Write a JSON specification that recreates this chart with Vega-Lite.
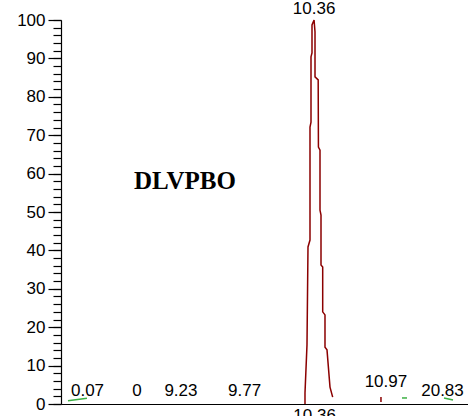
{
  "$schema": "https://vega.github.io/schema/vega-lite/v6.json",
  "width": 407,
  "height": 384,
  "autosize": {"type": "none"},
  "padding": {"left": 61, "top": 20, "right": 0, "bottom": 12},
  "background": "white",
  "config": {"view": {"stroke": null}},
  "datasets": {
    "trace": [
      {"seg": "peak", "series": "A", "i": 1, "t": 10.283, "v": 0},
      {"seg": "peak", "series": "A", "i": 2, "t": 10.283, "v": 2.9},
      {"seg": "peak", "series": "A", "i": 3, "t": 10.300, "v": 15.4},
      {"seg": "peak", "series": "A", "i": 4, "t": 10.3085, "v": 40.9},
      {"seg": "peak", "series": "A", "i": 5, "t": 10.3255, "v": 42.7},
      {"seg": "peak", "series": "A", "i": 6, "t": 10.3255, "v": 72.1},
      {"seg": "peak", "series": "A", "i": 7, "t": 10.334, "v": 73.4},
      {"seg": "peak", "series": "A", "i": 8, "t": 10.334, "v": 90.4},
      {"seg": "peak", "series": "A", "i": 9, "t": 10.3425, "v": 91.4},
      {"seg": "peak", "series": "A", "i": 10, "t": 10.3425, "v": 98.7},
      {"seg": "peak", "series": "A", "i": 11, "t": 10.36, "v": 100},
      {"seg": "peak", "series": "A", "i": 12, "t": 10.368, "v": 96.9},
      {"seg": "peak", "series": "A", "i": 13, "t": 10.368, "v": 85.2},
      {"seg": "peak", "series": "A", "i": 14, "t": 10.395, "v": 84.4},
      {"seg": "peak", "series": "A", "i": 15, "t": 10.397, "v": 66.9},
      {"seg": "peak", "series": "A", "i": 16, "t": 10.4104, "v": 66.1},
      {"seg": "peak", "series": "A", "i": 17, "t": 10.4104, "v": 50.5},
      {"seg": "peak", "series": "A", "i": 18, "t": 10.4189, "v": 49.2},
      {"seg": "peak", "series": "A", "i": 19, "t": 10.4189, "v": 36.2},
      {"seg": "peak", "series": "A", "i": 20, "t": 10.4333, "v": 35.7},
      {"seg": "peak", "series": "A", "i": 21, "t": 10.4333, "v": 24.0},
      {"seg": "peak", "series": "A", "i": 22, "t": 10.4528, "v": 23.2},
      {"seg": "peak", "series": "A", "i": 23, "t": 10.4528, "v": 14.8},
      {"seg": "peak", "series": "A", "i": 24, "t": 10.4698, "v": 14.1},
      {"seg": "peak", "series": "A", "i": 25, "t": 10.4953, "v": 4.4},
      {"seg": "peak", "series": "A", "i": 26, "t": 10.518, "v": 1.8},
      {"seg": "tiny", "series": "A", "i": 1, "t": 10.928, "v": 1.8},
      {"seg": "tiny", "series": "A", "i": 2, "t": 10.928, "v": 0.5},
      {"seg": "g1", "series": "B", "i": 1, "t": 8.2711, "v": 0.86},
      {"seg": "g1", "series": "B", "i": 2, "t": 8.4324, "v": 1.49},
      {"seg": "g2", "series": "B", "i": 1, "t": 11.1065, "v": 1.57},
      {"seg": "g2", "series": "B", "i": 2, "t": 11.149, "v": 1.57},
      {"seg": "g3", "series": "B", "i": 1, "t": 11.463, "v": 1.57},
      {"seg": "g3", "series": "B", "i": 2, "t": 11.5394, "v": 1.04}
    ],
    "labels": [
      {"label": "0.07", "t": 8.4367, "v": 2.08},
      {"label": "0", "t": 8.8569, "v": 2.08},
      {"label": "9.23", "t": 9.23, "v": 2.08},
      {"label": "9.77", "t": 9.77, "v": 2.08},
      {"label": "10.36", "t": 10.36, "v": 101.6},
      {"label": "10.97", "t": 10.97, "v": 4.5},
      {"label": "20.83", "t": 11.4503, "v": 2.08}
    ],
    "title": [
      {"label": "DLVPBO", "t": 9.2644, "v": 58.1}
    ]
  },
  "resolve": {"axis": {"y": "independent"}},
  "layer": [
    {
      "data": {"name": "trace"},
      "mark": {"type": "line", "strokeWidth": 1.5, "clip": false},
      "encoding": {
        "x": {
          "field": "t", "type": "quantitative",
          "scale": {"domain": [8.2117, 11.6668], "nice": false, "zero": false},
          "axis": {
            "values": [10.36], "ticks": false, "grid": false, "title": null,
            "domainColor": "black", "domainWidth": 1.2,
            "labelFont": "Liberation Sans", "labelFontSize": 17, "labelColor": "black",
            "labelPadding": 3, "format": ".2f"
          }
        },
        "y": {
          "field": "v", "type": "quantitative",
          "scale": {"domain": [0, 100], "nice": false},
          "axis": {
            "orient": "left",
            "values": [0,2,4,6,8,10,12,14,16,18,20,22,24,26,28,30,32,34,36,38,40,42,44,46,48,50,52,54,56,58,60,62,64,66,68,70,72,74,76,78,80,82,84,86,88,90,92,94,96,98,100],
            "labelExpr": "datum.value % 10 === 0 ? datum.label : ''",
            "labelOverlap": false,
            "tickSize": 8,
            "tickColor": "black", "tickWidth": 1.2,
            "domainColor": "black", "domainWidth": 1.2,
            "grid": false, "title": null,
            "labelFont": "Liberation Sans", "labelFontSize": 17, "labelColor": "black",
            "labelPadding": 8
          }
        },
        "color": {
          "field": "series", "type": "nominal",
          "scale": {"domain": ["A", "B"], "range": ["#8b0000", "#3cb043"]},
          "legend": null
        },
        "detail": {"field": "seg"},
        "order": {"field": "i"}
      }
    },
    {
      "data": {"name": "labels"},
      "mark": {"type": "text", "font": "Liberation Sans", "fontSize": 17, "align": "center", "baseline": "alphabetic", "color": "black"},
      "encoding": {
        "x": {"field": "t", "type": "quantitative"},
        "y": {
          "field": "v", "type": "quantitative",
          "axis": {
            "orient": "left",
            "values": [0,10,20,30,40,50,60,70,80,90,100],
            "labels": false, "domain": false, "grid": false, "title": null,
            "tickSize": 13, "tickColor": "black", "tickWidth": 1.2
          }
        },
        "text": {"field": "label"}
      }
    },
    {
      "data": {"name": "title"},
      "mark": {"type": "text", "font": "Liberation Serif", "fontWeight": "bold", "fontSize": 25, "align": "center", "baseline": "middle", "color": "black"},
      "encoding": {
        "x": {"field": "t", "type": "quantitative"},
        "y": {"field": "v", "type": "quantitative", "axis": null},
        "text": {"field": "label"}
      }
    }
  ]
}
